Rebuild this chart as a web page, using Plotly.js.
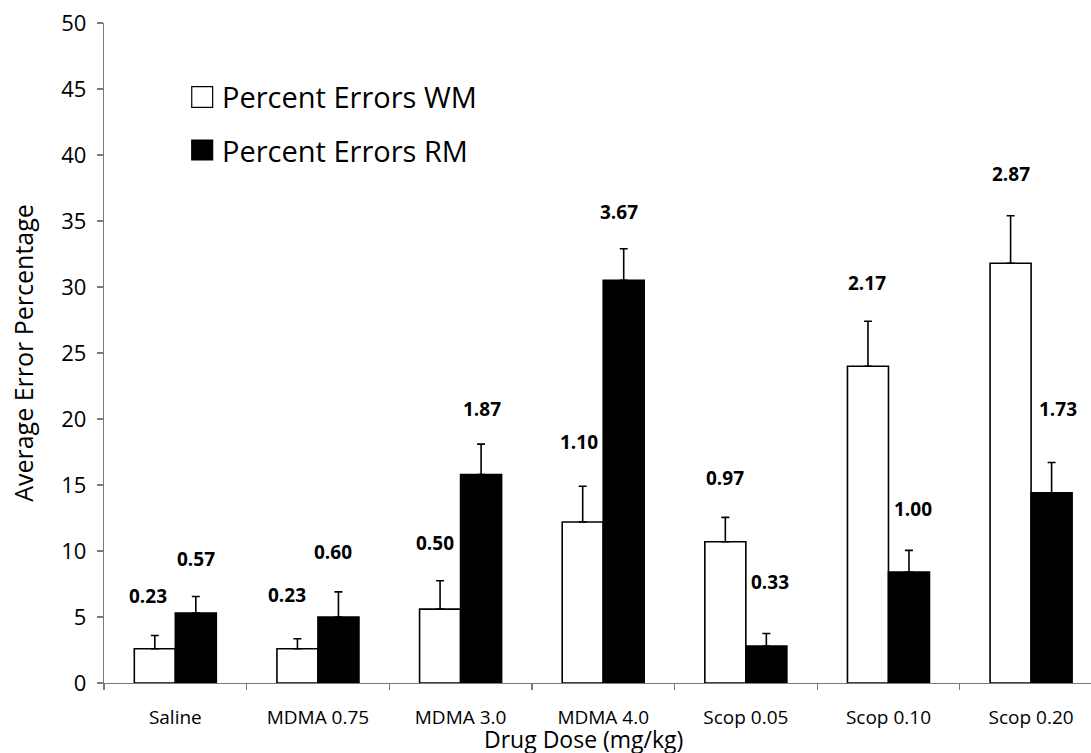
<!DOCTYPE html>
<html>
<head>
<meta charset="utf-8">
<script src="https://cdn.plot.ly/plotly-3.0.1.min.js"></script>
<style>
  html, body { margin: 0; padding: 0; background: #ffffff; }
  #chart { width: 1091px; height: 753px; }
</style>
</head>
<body>
<div id="chart"></div>
<script>
// Drug doses on the x axis
const doses = ['Saline', 'MDMA 0.75', 'MDMA 3.0', 'MDMA 4.0', 'Scop 0.05', 'Scop 0.10', 'Scop 0.20'];

// Average error percentage, working memory (WM) and reference memory (RM)
const wmMean = [2.6, 2.6, 5.6, 12.2, 10.7, 24.0, 31.8];
const wmSem  = [1.0, 0.75, 2.15, 2.7, 1.85, 3.4, 3.6];
const rmMean = [5.3, 5.0, 15.8, 30.5, 2.8, 8.4, 14.4];
const rmSem  = [1.25, 1.9, 2.3, 2.4, 0.95, 1.65, 2.3];

// Mean error counts printed above each bar
const wmCounts = ['0.23', '0.23', '0.50', '1.10', '0.97', '2.17', '2.87'];
const rmCounts = ['0.57', '0.60', '1.87', '3.67', '0.33', '1.00', '1.73'];

const seriesNames = ['Percent Errors WM', 'Percent Errors RM'];
const xTitle = 'Drug Dose (mg/kg)';
const yTitle = 'Average Error Percentage';

// Pixel nudges [dx, dy above the error cap] for the count labels
const wmNudge = [[-7, 39], [-10, 44], [-5, 38], [-4, 44], [0, 39], [-1, 38], [0, 42]];
const rmNudge = [[0, 38], [-5, 40], [1, 35], [-5, 37], [4, 52], [4, 41], [6, 54]];

const FONT = 'Open Sans, Lato, sans-serif';
const AXIS_GREY = '#7a7a7a';

const zeros = doses.map(() => 0);

const traces = [
  {
    type: 'bar', name: seriesNames[0], x: doses, y: wmMean,
    marker: { color: '#ffffff', line: { color: '#000000', width: 1.6 } },
    error_y: { type: 'data', symmetric: false, array: wmSem, arrayminus: zeros,
               color: '#000000', thickness: 1.6, width: 4 },
    showlegend: false, hoverinfo: 'x+y'
  },
  {
    type: 'bar', name: seriesNames[1], x: doses, y: rmMean,
    marker: { color: '#000000', line: { color: '#000000', width: 1.6 } },
    error_y: { type: 'data', symmetric: false, array: rmSem, arrayminus: zeros,
               color: '#000000', thickness: 1.6, width: 4 },
    showlegend: false, hoverinfo: 'x+y'
  }
];

// Half of one bar's width in pixels: bars sit 20.5px left/right of the category centre
const HALF_BAR = 20.5;
const annotations = [];
doses.forEach((d, i) => {
  annotations.push({
    x: d, y: wmMean[i] + wmSem[i], xref: 'x', yref: 'y',
    text: wmCounts[i], showarrow: false,
    xshift: -HALF_BAR + wmNudge[i][0], yshift: wmNudge[i][1],
    xanchor: 'center', yanchor: 'middle',
    font: { family: FONT, size: 19, color: '#000000', weight: 'bold' }
  });
  annotations.push({
    x: d, y: rmMean[i] + rmSem[i], xref: 'x', yref: 'y',
    text: rmCounts[i], showarrow: false,
    xshift: HALF_BAR + rmNudge[i][0], yshift: rmNudge[i][1],
    xanchor: 'center', yanchor: 'middle',
    font: { family: FONT, size: 19, color: '#000000', weight: 'bold' }
  });
});

// Key: swatch squares plus their captions (paper coordinates)
const keyRows = [
  { fill: '#ffffff', y0: 0.8723, y1: 0.9035, label: seriesNames[0] },
  { fill: '#000000', y0: 0.7924, y1: 0.8227, label: seriesNames[1] }
];
const shapes = [];
keyRows.forEach(row => {
  shapes.push({
    type: 'rect', xref: 'paper', yref: 'paper',
    x0: 0.0889, x1: 0.1101, y0: row.y0, y1: row.y1,
    fillcolor: row.fill, line: { color: '#000000', width: 1.2 }
  });
  annotations.push({
    xref: 'paper', yref: 'paper', x: 0.118, y: (row.y0 + row.y1) / 2,
    xanchor: 'left', yanchor: 'middle', showarrow: false,
    text: row.label, font: { family: FONT, size: 29, color: '#000000' }
  });
});

// x-axis title, set just under the dose labels
annotations.push({
  xref: 'paper', yref: 'paper', x: 0.4863, y: -0.0848,
  xanchor: 'center', yanchor: 'middle', showarrow: false,
  text: xTitle, font: { family: FONT, size: 23, color: '#000000' }
});

const layout = {
  width: 1091, height: 753,
  margin: { l: 104, r: 0, t: 23, b: 70, pad: 0 },
  paper_bgcolor: '#ffffff', plot_bgcolor: '#ffffff',
  barmode: 'group', bargap: 0.425, bargroupgap: 0,
  showlegend: false,
  font: { family: FONT, color: '#000000' },
  xaxis: {
    type: 'category', range: [-0.5, 6.42],
    showline: true, linecolor: AXIS_GREY, linewidth: 1.3,
    ticks: 'outside', tickson: 'boundaries', ticklen: 6, tickcolor: AXIS_GREY, tickwidth: 1.3,
    showgrid: false, zeroline: false,
    tickfont: { family: FONT, size: 19, color: '#000000' },
    ticklabelstandoff: 17,
    fixedrange: true
  },
  yaxis: {
    range: [0, 50], dtick: 5, tick0: 0,
    showline: true, linecolor: AXIS_GREY, linewidth: 1.3,
    ticks: 'outside', ticklen: 6, tickcolor: AXIS_GREY, tickwidth: 1.3,
    showgrid: false, zeroline: false,
    tickfont: { family: FONT, size: 22, color: '#000000' },
    ticklabelstandoff: 6,
    title: { text: yTitle, font: { family: FONT, size: 25, color: '#000000' }, standoff: 20 },
    fixedrange: true
  },
  annotations: annotations,
  shapes: shapes
};

Plotly.newPlot('chart', traces, layout, { displayModeBar: false, staticPlot: true });
</script>
</body>
</html>
